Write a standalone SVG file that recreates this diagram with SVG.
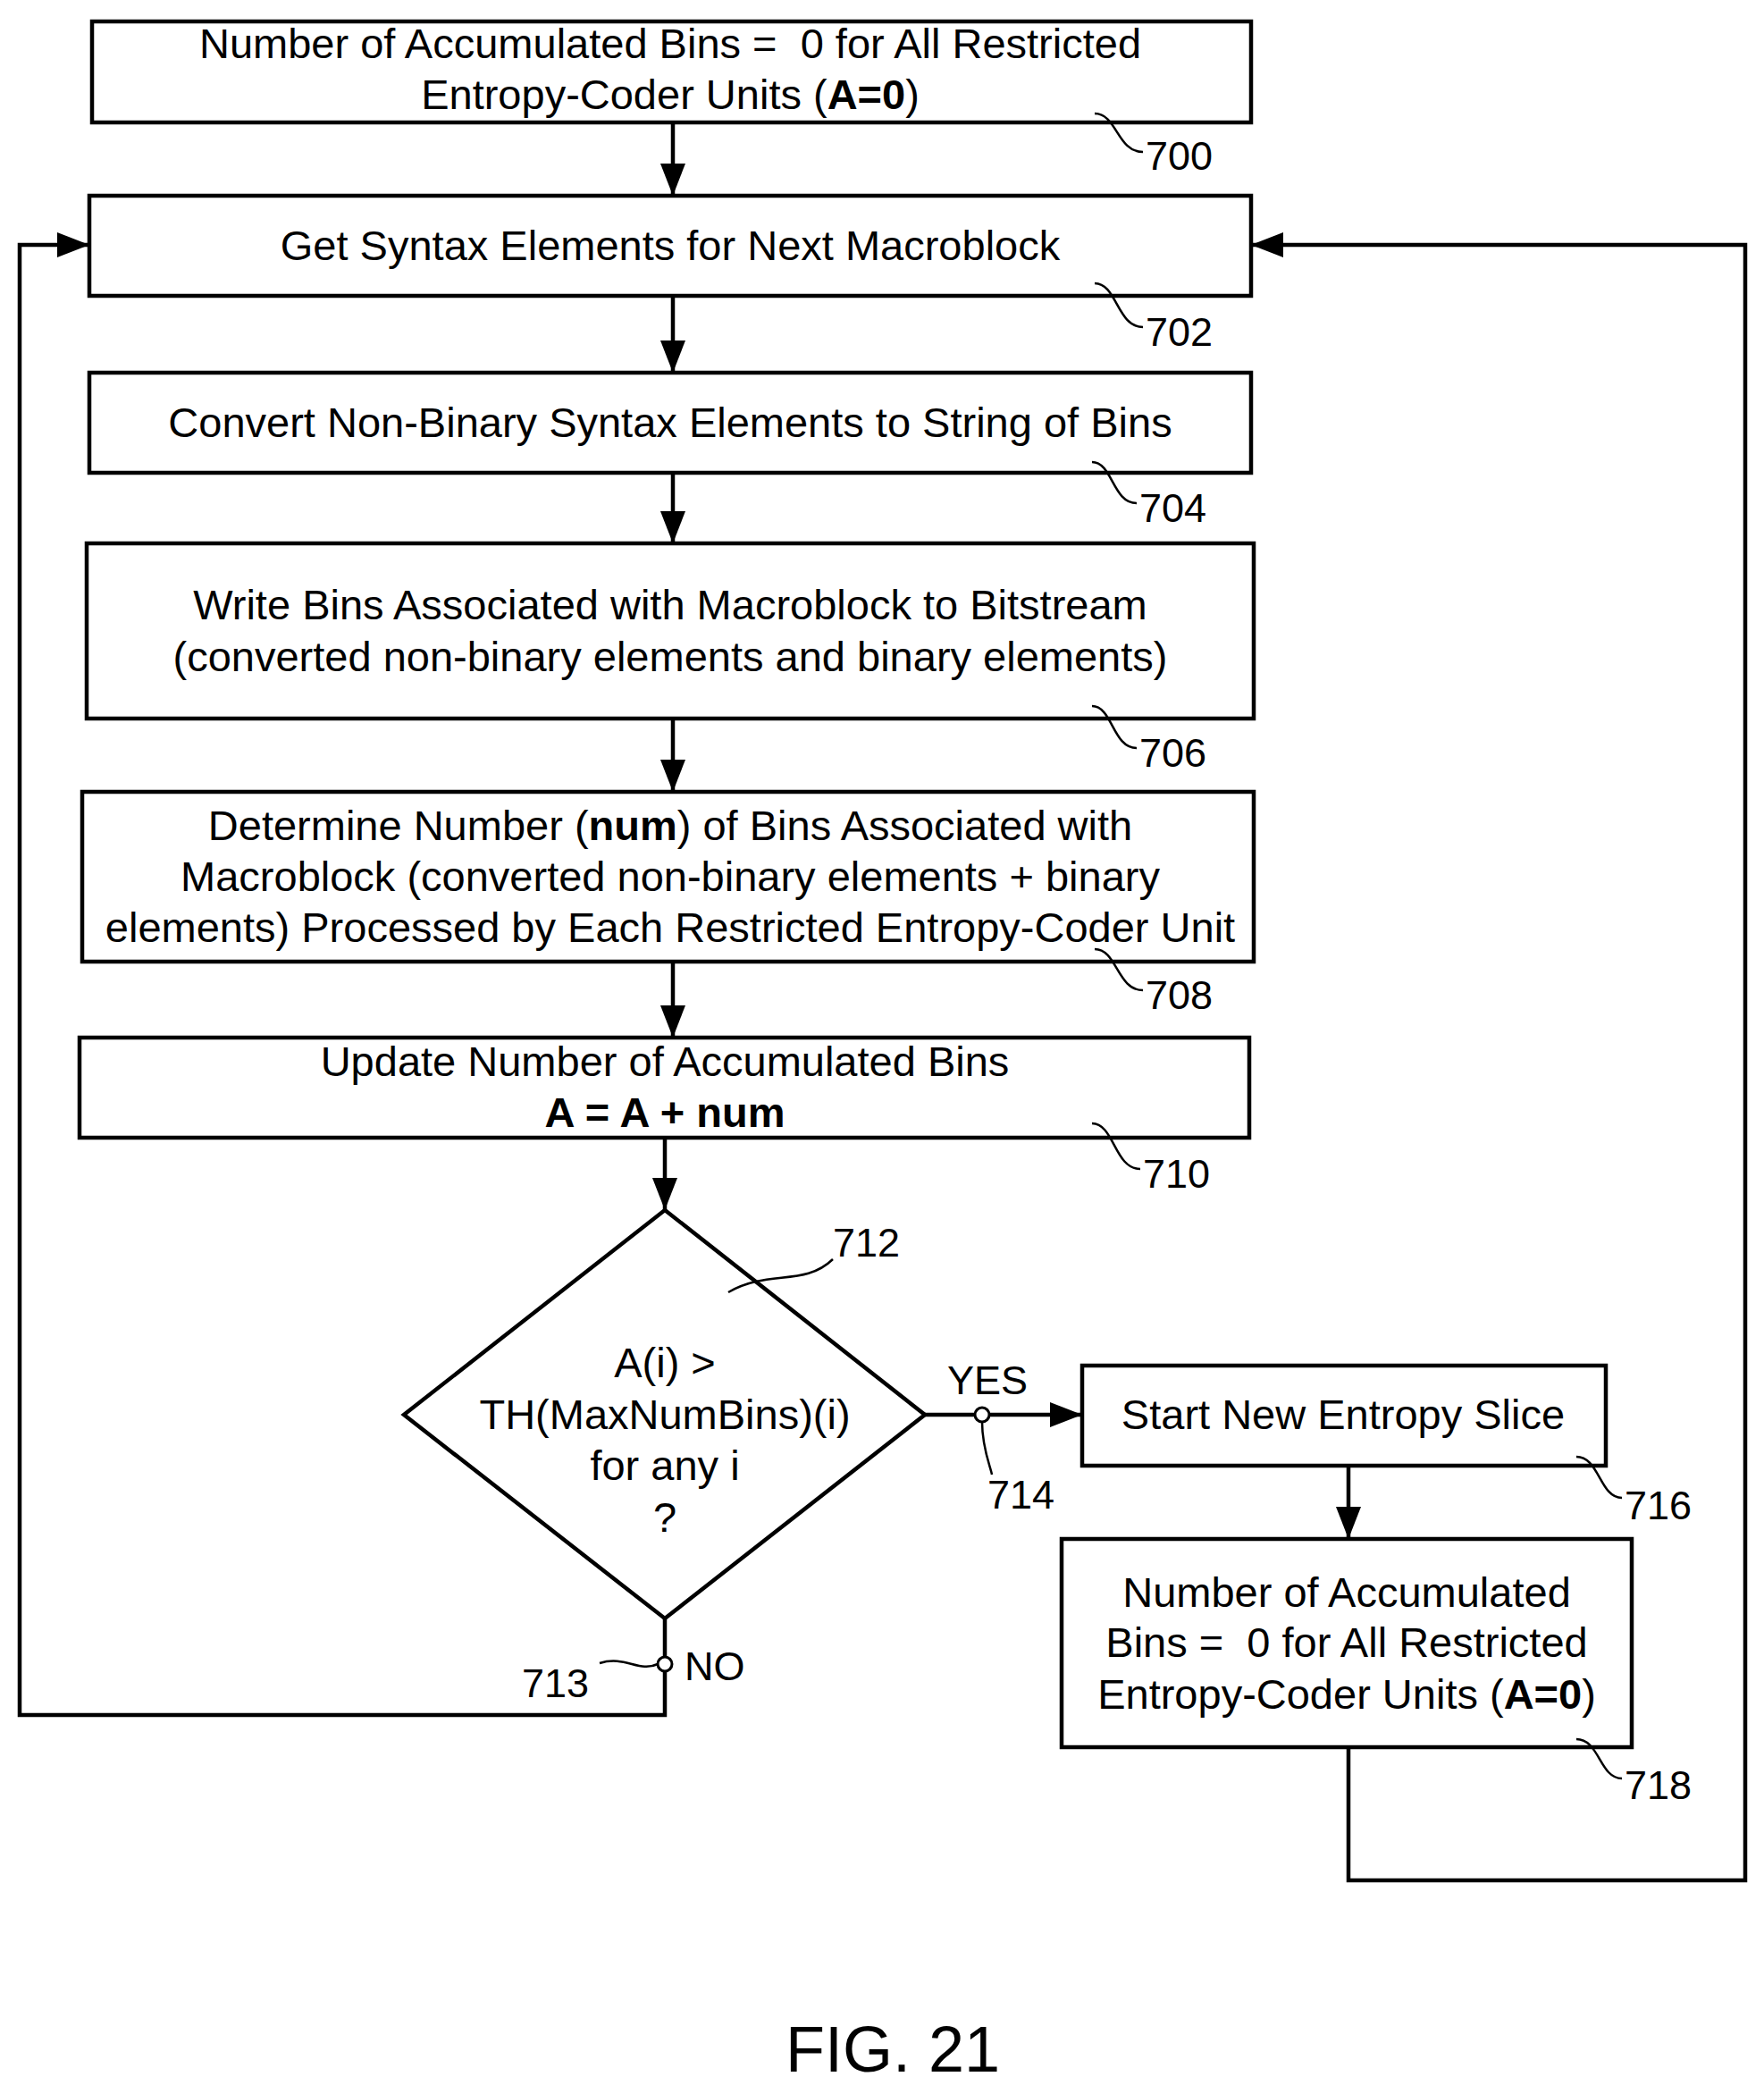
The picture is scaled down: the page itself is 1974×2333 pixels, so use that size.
<svg xmlns="http://www.w3.org/2000/svg" width="1974" height="2333" viewBox="0 0 1974 2333">
<style>
.b{fill:#fff;stroke:#000;stroke-width:4.5}
.l{fill:none;stroke:#000;stroke-width:4.5}
.t{font-family:"Liberation Sans",Arial,sans-serif;font-size:47px;fill:#000;text-anchor:middle}
.n{font-family:"Liberation Sans",Arial,sans-serif;font-size:45px;fill:#000}
.lead{fill:none;stroke:#000;stroke-width:2.5}
</style>
<defs>
<marker id="A" viewBox="0 0 10 10" refX="10" refY="5" markerWidth="36" markerHeight="28" orient="auto" markerUnits="userSpaceOnUse" preserveAspectRatio="none"><path d="M0,0 L10,5 L0,10 z"/></marker></defs>
<g id="connectors">
<path class="l" d="M753,137V219" marker-end="url(#A)"/>
<path class="l" d="M753,331V417" marker-end="url(#A)"/>
<path class="l" d="M753,529V608" marker-end="url(#A)"/>
<path class="l" d="M753,804V886" marker-end="url(#A)"/>
<path class="l" d="M753,1076V1161" marker-end="url(#A)"/>
<path class="l" d="M744,1273V1354" marker-end="url(#A)"/>
<path class="l" d="M1509,1640V1722" marker-end="url(#A)"/>
<path class="l" d="M1035,1583H1211" marker-end="url(#A)"/>
<path class="l" d="M1509,1955V2104H1953V274H1400" marker-end="url(#A)"/>
<path class="l" d="M744,1811V1919H22V274H100" marker-end="url(#A)"/>
<circle cx="1099" cy="1583" r="8" fill="#fff" stroke="#000" stroke-width="3"/>
<circle cx="744" cy="1862" r="8" fill="#fff" stroke="#000" stroke-width="3"/>
<text class="n" x="1060" y="1560">YES</text>
<text class="n" x="766" y="1880">NO</text>
<path class="lead" d="M1099,1591 C1099,1620 1108,1640 1110,1650"/>
<text class="n" x="1105" y="1688">714</text>
<path class="lead" d="M736,1862 C715,1872 700,1852 671,1861"/>
<text class="n" x="584" y="1899">713</text>
</g>
<g id="n700"><rect class="b" x="103" y="24" width="1297" height="113"/>
<text class="t" x="750" y="65" xml:space="preserve">Number of Accumulated Bins =  0 for All Restricted</text>
<text class="t" x="750" y="122">Entropy-Coder Units (<tspan font-weight="bold">A=0</tspan>)</text>
<path class="lead" d="M1225,127 C1250,127 1250,170 1279,170"/><text class="n" x="1282" y="190">700</text></g>
<g id="n702"><rect class="b" x="100" y="219" width="1300" height="112"/>
<text class="t" x="750" y="291">Get Syntax Elements for Next Macroblock</text>
<path class="lead" d="M1225,317 C1250,317 1250,366 1279,366"/><text class="n" x="1282" y="387">702</text></g>
<g id="n704"><rect class="b" x="100" y="417" width="1300" height="112"/>
<text class="t" x="750" y="489">Convert Non-Binary Syntax Elements to String of Bins</text>
<path class="lead" d="M1222,517 C1245,517 1245,563 1272,563"/><text class="n" x="1275" y="584">704</text></g>
<g id="n706"><rect class="b" x="97" y="608" width="1306" height="196"/>
<text class="t" x="750" y="693">Write Bins Associated with Macroblock to Bitstream</text>
<text class="t" x="750" y="751">(converted non-binary elements and binary elements)</text>
<path class="lead" d="M1222,790 C1245,790 1245,837 1272,837"/><text class="n" x="1275" y="858">706</text></g>
<g id="n708"><rect class="b" x="92" y="886" width="1311" height="190"/>
<text class="t" x="750" y="940">Determine Number (<tspan font-weight="bold">num</tspan>) of Bins Associated with</text>
<text class="t" x="750" y="997">Macroblock (converted non-binary elements + binary</text>
<text class="t" x="750" y="1054">elements) Processed by Each Restricted Entropy-Coder Unit</text>
<path class="lead" d="M1225,1062 C1250,1062 1250,1108 1279,1108"/><text class="n" x="1282" y="1129">708</text></g>
<g id="n710"><rect class="b" x="89" y="1161" width="1309" height="112"/>
<text class="t" x="744" y="1204">Update Number of Accumulated Bins</text>
<text class="t" x="744" y="1261" font-weight="bold">A = A + num</text>
<path class="lead" d="M1222,1257 C1247,1257 1247,1308 1276,1308"/><text class="n" x="1279" y="1329">710</text></g>
<g id="n712"><path class="l" d="M744,1354L1035,1583L744,1811L452,1583Z" fill="#fff"/>
<text class="t" x="744" y="1541">A(i) &gt;</text>
<text class="t" x="744" y="1599">TH(MaxNumBins)(i)</text>
<text class="t" x="744" y="1656">for any i</text>
<text class="t" x="744" y="1714">?</text>
<path class="lead" d="M815,1446 C860,1420 900,1440 932,1409"/><text class="n" x="932" y="1406">712</text></g>
<g id="n716"><rect class="b" x="1211" y="1528" width="586" height="112"/>
<text class="t" x="1503" y="1599">Start New Entropy Slice</text>
<path class="lead" d="M1764,1630 C1790,1630 1790,1676 1815,1676"/><text class="n" x="1818" y="1700">716</text></g>
<g id="n718"><rect class="b" x="1188" y="1722" width="638" height="233"/>
<text class="t" x="1507" y="1798">Number of Accumulated</text>
<text class="t" x="1507" y="1854" xml:space="preserve">Bins =  0 for All Restricted</text>
<text class="t" x="1507" y="1912">Entropy-Coder Units (<tspan font-weight="bold">A=0</tspan>)</text>
<path class="lead" d="M1764,1946 C1790,1946 1790,1990 1815,1990"/><text class="n" x="1818" y="2013">718</text></g>
<text class="t" x="999" y="2318" style="font-size:72px">FIG. 21</text>
</svg>
